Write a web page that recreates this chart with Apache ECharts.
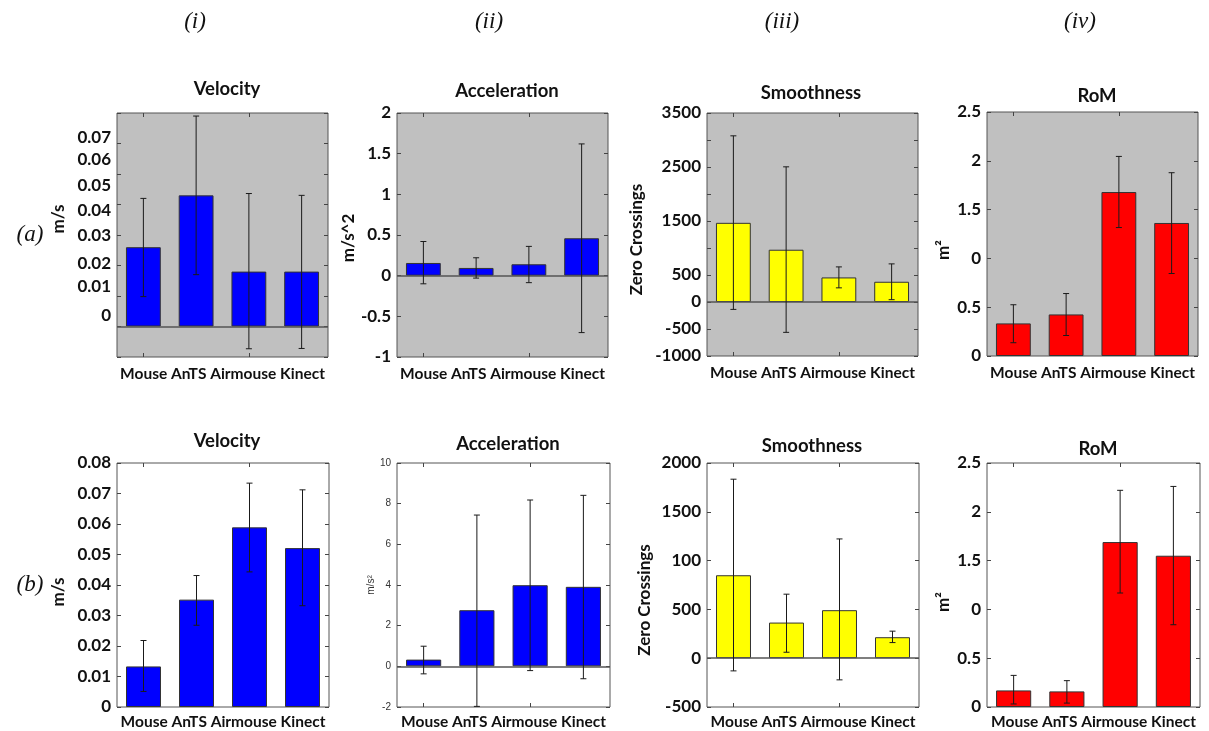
<!DOCTYPE html>
<html>
<head>
<meta charset="utf-8">
<script src="https://cdn.jsdelivr.net/npm/echarts@6/dist/echarts.min.js"></script>
<style>
html, body { margin: 0; padding: 0; background: #fff; }
#chart { width: 1209px; height: 731px; }
</style>
</head>
<body>
<div id="chart"></div>
<script>
var categories = ['Mouse', 'AnTS', 'Airmouse', 'Kinect'];
var xName = 'Mouse AnTS Airmouse Kinect';

// row (a)
var velA = [0.026, 0.043, 0.018, 0.018];
var velALow = [0.0098, 0.017, -0.0073, -0.0072];
var velAHigh = [0.042, 0.069, 0.0436, 0.043];
var velATicks = ['0', '0.01', '0.02', '0.03', '0.04', '0.05', '0.06', '0.07'];
var velATickAt = [0.0036, 0.013, 0.0205, 0.0297, 0.0379, 0.0461, 0.0547, 0.062];

var accA = [0.156, 0.095, 0.14, 0.46];
var accALow = [-0.10, -0.03, -0.086, -0.70];
var accAHigh = [0.42, 0.22, 0.36, 1.62];
var accATicks = ['-1', '-0.5', '0', '0.5', '1', '1.5', '2'];

var smoA = [1466, 968, 455, 375];
var smoALow = [-137, -562, 262, 43];
var smoAHigh = [3077, 2503, 650, 706];
var smoATicks = ['-1000', '-500', '0', '500', '', '1500', '', '2500', '', '3500'];

var romA = [0.334, 0.426, 1.68, 1.363];
var romALow = [0.136, 0.21, 1.316, 0.845];
var romAHigh = [0.525, 0.64, 2.045, 1.878];
var romTicks = ['0', '0.5', '0', '1.5', '2', '2.5'];

// row (b)
var velB = [0.0133, 0.0352, 0.0589, 0.0521];
var velBLow = [0.0051, 0.0268, 0.0443, 0.0332];
var velBHigh = [0.0218, 0.0431, 0.0734, 0.0712];
var velBTicks = ['0', '0.01', '0.02', '0.03', '0.04', '0.05', '0.06', '0.07', '0.08'];

var accB = [0.33, 2.76, 3.99, 3.91];
var accBLow = [-0.37, -1.97, -0.21, -0.61];
var accBHigh = [0.99, 7.44, 8.18, 8.41];
var accBTicks = ['-2', '0', '2', '4', '6', '8', '10'];

var smoB = [850, 365, 492, 215];
var smoBLow = [-130, 61, -222, 160];
var smoBHigh = [1834, 656, 1222, 277];
var smoBTicks = ['-500', '0', '500', '100', '1500', '2000'];

var romB = [0.170, 0.160, 1.69, 1.55];
var romBLow = [0.031, 0.04, 1.168, 0.843];
var romBHigh = [0.324, 0.27, 2.22, 2.26];

var colLabels = ['(i)', '(ii)', '(iii)', '(iv)'];
var rowLabels = ['(a)', '(b)'];

var myChart = echarts.init(document.getElementById('chart'));

// layout per panel; pad shifts the rotated y name along the axis (+ up, - down)
var panels = [
    {title: 'Velocity', unit: 'm/s', mean: velA, low: velALow, high: velAHigh, color: '#0000ff',
     min: -0.01, max: 0.07, interval: 0.01, ticks: velATicks, tickAt: velATickAt,
     left: 117, top: 113, width: 211, height: 244, bg: '#c0c0c0', nameGap: 50, pad: 32, tx: 222, ty: 75},
    {title: 'Acceleration', unit: 'm/s^2', mean: accA, low: accALow, high: accAHigh, color: '#0000ff',
     min: -1, max: 2, interval: 0.5, ticks: accATicks,
     left: 397, top: 113, width: 211, height: 244, bg: '#c0c0c0', nameGap: 34, pad: -6, tx: 502, ty: 77},
    {title: 'Smoothness', unit: 'Zero Crossings', mean: smoA, low: smoALow, high: smoAHigh, color: '#ffff00',
     min: -1000, max: 3500, interval: 500, ticks: smoATicks,
     left: 707, top: 113, width: 211, height: 243, bg: '#c0c0c0', nameGap: 62, pad: -10, tx: 806, ty: 79},
    {title: 'RoM', unit: 'm²', mean: romA, low: romALow, high: romAHigh, color: '#ff0000',
     min: 0, max: 2.5, interval: 0.5, ticks: romTicks,
     left: 987, top: 112, width: 211, height: 244, bg: '#c0c0c0', nameGap: 35, pad: -32, tx: 1092, ty: 82},
    {title: 'Velocity', unit: 'm/s', mean: velB, low: velBLow, high: velBHigh, color: '#0000ff',
     min: 0, max: 0.08, interval: 0.01, ticks: velBTicks,
     left: 117, top: 463, width: 212, height: 244, bg: '#ffffff', nameGap: 50, pad: -14, tx: 222, ty: 427},
    {title: 'Acceleration', unit: 'm/s²', mean: accB, low: accBLow, high: accBHigh, color: '#0000ff',
     min: -2, max: 10, interval: 2, ticks: accBTicks, small: true,
     left: 397, top: 463, width: 213, height: 244, bg: '#ffffff', nameGap: 19, pad: 0, tx: 503, ty: 430},
    {title: 'Smoothness', unit: 'Zero Crossings', mean: smoB, low: smoBLow, high: smoBHigh, color: '#ffff00',
     min: -500, max: 2000, interval: 500, ticks: smoBTicks,
     left: 707, top: 463, width: 212, height: 244, bg: '#ffffff', nameGap: 54, pad: -30, tx: 807, ty: 432},
    {title: 'RoM', unit: 'm²', mean: romB, low: romBLow, high: romBHigh, color: '#ff0000',
     min: 0, max: 2.5, interval: 0.5, ticks: romTicks,
     left: 987, top: 463, width: 213, height: 244, bg: '#ffffff', nameGap: 35, pad: -34, tx: 1093, ty: 435}
];

var FONT = 'Lato, "Open Sans", sans-serif';
var SMALL_FONT = 'Arial, "Liberation Sans", sans-serif';

function renderErr(params, api) {
    var x = api.value(0);
    var lo = api.coord([x, api.value(1)]);
    var hi = api.coord([x, api.value(2)]);
    var c = 3;
    var st = {stroke: '#1a1a1a', lineWidth: 1};
    return {
        type: 'group',
        children: [
            {type: 'line', shape: {x1: lo[0], y1: lo[1], x2: hi[0], y2: hi[1]}, style: st},
            {type: 'line', shape: {x1: lo[0] - c, y1: lo[1], x2: lo[0] + c, y2: lo[1]}, style: st},
            {type: 'line', shape: {x1: hi[0] - c, y1: hi[1], x2: hi[0] + c, y2: hi[1]}, style: st}
        ]
    };
}

var grids = [], xAxes = [], yAxes = [], series = [], titles = [];

panels.forEach(function(p, i) {
    grids.push({
        left: p.left, top: p.top, width: p.width, height: p.height,
        show: true, backgroundColor: p.bg, borderColor: '#555', borderWidth: 1
    });

    var tickStyle = {show: true, inside: true, length: 4, lineStyle: {color: '#444'}};

    // bottom category axis, carries the names line
    xAxes.push({
        type: 'category', gridIndex: i, data: categories, position: 'bottom',
        axisLine: {show: false, onZero: false},
        axisTick: {show: true, inside: true, length: 4, alignWithLabel: true, lineStyle: {color: '#444'}},
        axisLabel: {show: false},
        name: xName, nameLocation: 'middle', nameGap: i < 4 ? 9 : 7,
        nameTextStyle: {fontFamily: FONT, fontWeight: 'bold', fontSize: 15.5, color: '#111'}
    });
    // top ticks
    xAxes.push({
        type: 'category', gridIndex: i, data: categories, position: 'top',
        axisLine: {show: false, onZero: false},
        axisTick: {show: true, inside: true, length: 4, alignWithLabel: true, lineStyle: {color: '#444'}},
        axisLabel: {show: false}
    });

    var labelCfg = {
        show: true, margin: 6,
        fontFamily: p.small ? SMALL_FONT : FONT,
        fontWeight: p.small ? 'normal' : 'bold',
        fontSize: p.small ? 10 : 17,
        color: p.small ? '#333' : '#111',
        formatter: function(v) {
            if (p.tickAt) {
                var best = 0;
                p.tickAt.forEach(function(t, k) {
                    if (Math.abs(t - v) < Math.abs(p.tickAt[best] - v)) best = k;
                });
                return p.ticks[best];
            }
            var k = Math.round((v - p.min) / p.interval);
            return p.ticks[k] !== undefined ? p.ticks[k] : '';
        }
    };
    if (p.tickAt) labelCfg.customValues = p.tickAt;

    var pad = p.pad > 0 ? [0, 0, 0, p.pad] : [0, -p.pad, 0, 0];

    yAxes.push({
        type: 'value', gridIndex: i, position: 'left',
        min: p.min, max: p.max, interval: p.interval,
        axisLine: {show: false},
        axisTick: tickStyle,
        splitLine: {show: false},
        axisLabel: labelCfg,
        name: p.unit, nameLocation: 'middle', nameGap: p.nameGap, nameRotate: 90,
        nameTextStyle: {
            fontFamily: p.small ? SMALL_FONT : FONT,
            fontWeight: p.small ? 'normal' : 'bold',
            fontSize: p.small ? 10 : 17, color: p.small ? '#333' : '#111',
            padding: pad
        }
    });
    yAxes.push({
        type: 'value', gridIndex: i, position: 'right',
        min: p.min, max: p.max, interval: p.interval,
        axisLine: {show: false},
        axisTick: tickStyle,
        splitLine: {show: false},
        axisLabel: {show: false}
    });

    var bar = {
        type: 'bar', xAxisIndex: 2 * i, yAxisIndex: 2 * i,
        data: p.mean, barWidth: '66%',
        itemStyle: {color: p.color, borderColor: '#333', borderWidth: 1},
        silent: true, animation: false
    };
    if (p.min < 0) {
        bar.markLine = {
            silent: true, symbol: 'none', label: {show: false},
            lineStyle: {color: '#555', width: 1.5, type: 'solid'},
            data: [{yAxis: 0}], animation: false
        };
    }
    series.push(bar);

    series.push({
        type: 'custom', xAxisIndex: 2 * i, yAxisIndex: 2 * i,
        renderItem: renderErr,
        encode: {x: 0, y: [1, 2]},
        data: p.mean.map(function(m, k) { return [k, p.low[k], p.high[k]]; }),
        z: 5, silent: true, animation: false
    });

    titles.push({
        text: p.title, left: p.tx, top: p.ty, textAlign: 'center',
        textStyle: {fontFamily: FONT, fontWeight: 'bold', fontSize: 18.5, color: '#111'}
    });
});

var serif = {fontFamily: '"Liberation Serif", "DejaVu Serif", serif', fontStyle: 'italic', fontWeight: 'normal', fontSize: 23, color: '#111'};
var colX = [190, 484, 777, 1075];
colLabels.forEach(function(t, k) {
    titles.push({text: t, left: colX[k], top: 5, textAlign: 'center', textStyle: serif});
});
var rowY = [218, 568];
rowLabels.forEach(function(t, k) {
    titles.push({text: t, left: 25, top: rowY[k], textAlign: 'center', textStyle: serif});
});

option = {
    backgroundColor: '#ffffff',
    animation: false,
    title: titles,
    grid: grids,
    xAxis: xAxes,
    yAxis: yAxes,
    series: series
};

myChart.setOption(option);

window.addEventListener('resize', function() {
    myChart.resize();
});
</script>
</body>
</html>
